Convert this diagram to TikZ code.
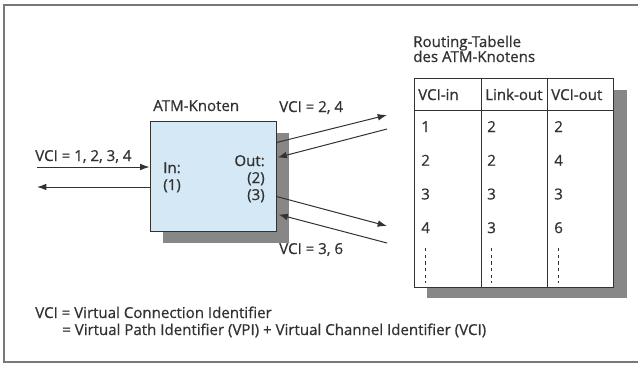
\documentclass[tikz,border=0pt]{standalone}
\usepackage{fontspec}
\setmainfont{Open Sans}[FakeBold=0.7]
\usetikzlibrary{calc,arrows.meta}
\definecolor{txtgray}{RGB}{50,50,50}
\definecolor{framegray}{RGB}{120,120,120}
\definecolor{boxblue}{RGB}{212,233,245}
\definecolor{shadowgray}{RGB}{135,135,135}

\begin{document}
\begin{tikzpicture}[x=0.75pt,y=0.75pt,yscale=-1,xscale=1,
    lbl/.style={text=txtgray,font=\fontsize{11.3}{13}\selectfont,inner sep=0pt,anchor=base west},
    pfeil/.style={draw=txtgray,line width=0.75,-{Latex[length=7pt,width=5pt]}}]
\useasboundingbox (0,0) rectangle (638,365);
%Frame
\draw [color=framegray,line width=0.9] (638,5) -- (4,5) -- (4,362) -- (638,362) ;

%Shape: Rectangle (shadow of node)
\fill [shadowgray] (163,133) rectangle (289,243) ;
%Shape: Rectangle (ATM node)
\node [draw=txtgray,fill=boxblue,line width=0.75,minimum width=94.5pt,minimum height=82.5pt,inner sep=0pt] (knoten) at (213,176) {};
\node [lbl] (knotenTitel) at (153,111) {ATM-Knoten};
\node [lbl] (in) at (163,173) {In:};
\node [lbl] (in1) at (163,190) {(1)};
\node [lbl,anchor=base east] (out) at (265,166) {Out:};
\node [lbl,anchor=base east] (out2) at (265,183) {(2)};
\node [lbl,anchor=base east] (out3) at (265,200) {(3)};

%Straight Lines (left link)
\coordinate (linksIn) at (37,167);
\coordinate (linksOut) at (37,187);
\draw [pfeil] (linksIn) -- (linksIn -| knoten.west) ;
\draw [pfeil] (linksOut -| knoten.west) -- (linksOut) ;
\node [lbl] (vciIn) at (35,161) {VCI = 1, 2, 3, 4};

%Straight Lines (link 2)
\coordinate (out2Ende) at (387,115);
\coordinate (out2Start) at (387,129);
\draw [pfeil] ($(knoten.north east)+(0,22)$) -- (out2Ende) ;
\draw [pfeil] (out2Start) -- ($(knoten.north east)+(1,37)$) ;
\node [lbl] (vciOut2) at (279,112) {VCI = 2, 4};

%Straight Lines (link 3)
\coordinate (out3Ende) at (387,226);
\coordinate (out3Start) at (387,243);
\draw [pfeil] ($(knoten.north east)+(0,76)$) -- (out3Ende) ;
\draw [pfeil] (out3Start) -- ($(knoten.north east)+(2,94)$) ;
\node [lbl] (vciOut3) at (279,254) {VCI = 3, 6};

%Routing table
\node [lbl] (tabTitel) at (413,47) {Routing-Tabelle};
\node [lbl] (tabTitel2) at (413,62) {des ATM-Knotens};
\fill [shadowgray] (427,90) rectangle (627,298) ;
\node [draw=txtgray,fill=white,line width=0.75,minimum width=149.25pt,minimum height=156.75pt,inner sep=0pt] (tabelle) at (513.5,182.5) {};
\draw [color=txtgray,line width=0.75] (414,110) -- (613,110) ;
\draw [color=txtgray,line width=0.75] (481,78) -- (481,287) ;
\draw [color=txtgray,line width=0.75] (547,78) -- (547,287) ;
\node [lbl] (kopfA) at (418,100) {VCI-in};
\node [lbl] (kopfB) at (485,100) {Link-out};
\node [lbl] (kopfC) at (551,100) {VCI-out};
\foreach \a/\b/\c [count=\i] in {1/2/2,2/2/4,3/3/3,4/3/6}{
  \node [lbl] (zeileA\i) at (421,{98.3+33.7*\i}) {\a};
  \node [lbl] (zeileB\i) at (487,{98.3+33.7*\i}) {\b};
  \node [lbl] (zeileC\i) at (554,{98.3+33.7*\i}) {\c};
}
\foreach \x in {425,491,558}{
  \draw [color=txtgray,line width=0.75,dash pattern=on 2.5pt off 2.5pt] (\x,248) -- (\x,283) ;
}

%Legend
\node [lbl] (legende1) at (35,318) {VCI = Virtual Connection Identifier};
\node [lbl] (legende2) at (62,335) {= Virtual Path Identifier (VPI) + Virtual Channel Identifier (VCI)};
\end{tikzpicture}
\end{document}
